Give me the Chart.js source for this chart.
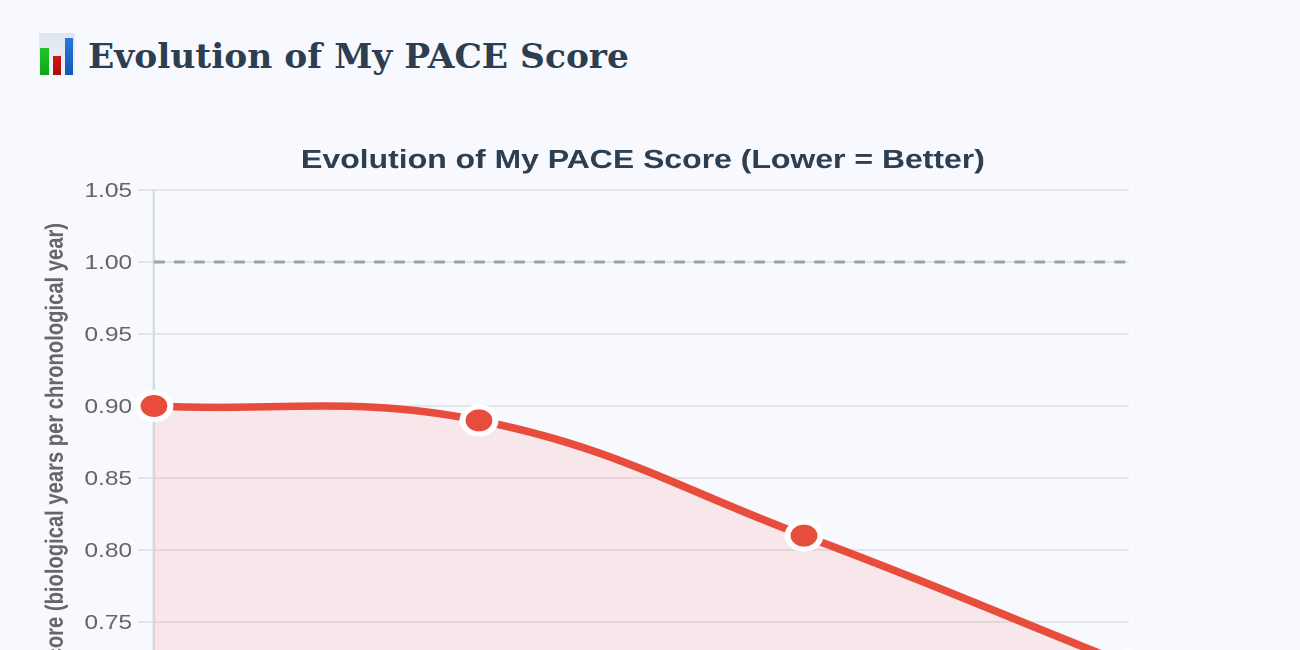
<!DOCTYPE html>
<html><head><meta charset="utf-8">
<style>
html,body{margin:0;padding:0;width:1300px;height:650px;overflow:hidden;background:#f8f9ff}
#stage{position:absolute;left:0;top:0;width:1300px;height:650px;overflow:hidden;background:#f8f9ff}
#wrap{position:absolute;left:0;top:120px;width:1054px;height:730px;transform:scaleX(1.22);transform-origin:0 0}
#h{position:absolute;left:88px;top:35px;margin:0;font:bold 34px/42px "DejaVu Serif",serif;color:#2c3e50;white-space:nowrap;transform:scaleX(1.013);transform-origin:0 0}
#icon{position:absolute;left:38.5px;top:33px;width:36px;height:43px;background:linear-gradient(#dfe6ee,#f2f4f8)}
#icon i{position:absolute;bottom:1px;width:8.5px;display:block}
</style></head><body>
<div id="stage">
<div id="icon"><i style="left:1.5px;height:27px;background:linear-gradient(#22c42a,#0aa814)"></i><i style="left:14.2px;height:19px;background:linear-gradient(#d01510,#b00a08)"></i><i style="left:26.2px;height:37px;background:linear-gradient(#2a78d8,#1258b8)"></i></div>
<h1 id="h">Evolution of My PACE Score</h1>
<div id="wrap"><canvas id="c" width="1054" height="730"></canvas></div>
</div>
<script src="https://cdn.jsdelivr.net/npm/chart.js@4"></script>
<script>
const categories = ["Test 1","Test 2","Test 3","Test 4"];
const paceValues = [0.90,0.89,0.81,0.72];
const referenceValues = [1.00,1.00,1.00,1.00];
const chartTitle = "Evolution of My PACE Score (Lower = Better)";
const yTitle = "PACE Score (biological years per chronological year)";
new Chart(document.getElementById('c'),{
 type:'line',
 data:{labels:categories,datasets:[
  {label:'PACE',data:paceValues,borderColor:'#e74c3c',backgroundColor:'rgba(248,69,45,0.1)',fill:true,tension:0.4,borderWidth:7.5,
   pointRadius:13.5,pointBorderWidth:5,pointBackgroundColor:'#e74c3c',pointBorderColor:'#fff',clip:false},
  {label:'Reference',data:referenceValues,borderColor:'#95a5a6',borderDash:[8.8,7.6],borderWidth:3,pointRadius:0,fill:false}
 ]},
 options:{responsive:false,animation:false,devicePixelRatio:2,
  layout:{padding:0},
  plugins:{legend:{display:false},tooltip:{enabled:false},
   title:{display:true,text:chartTitle,color:'#2c3e50',font:{family:'"Liberation Sans"',size:26.2,weight:'bold'},padding:{top:25.3,bottom:13.3}}},
  scales:{
   x:{grid:{display:false},border:{color:'#d8dbe2',width:2},ticks:{font:{size:20,family:'"Liberation Sans"'},color:'#666'},afterFit(s){s.height=84}},
   y:{min:0.65,max:1.05,position:'left',
      ticks:{stepSize:0.05,color:'#666',padding:5,labelOffset:1.5,font:{size:20,family:'"Liberation Sans"'},callback:v=>v.toFixed(2)},
      grid:{color:'rgba(0,0,0,0.08)',lineWidth:2,tickLength:13},border:{color:'#d8dbe2',width:2},
      title:{display:true,text:yTitle,color:'#666',font:{size:20.2,weight:'bold',family:'"Liberation Sans"'},padding:{top:34,bottom:0}},
      afterFit(s){s.width=126.2}},
   y2:{position:'right',display:true,min:0,max:1,grid:{display:false},border:{display:false},ticks:{display:false},afterFit(s){s.width=128.6}}
  }
 }
});
</script>
</body></html>
